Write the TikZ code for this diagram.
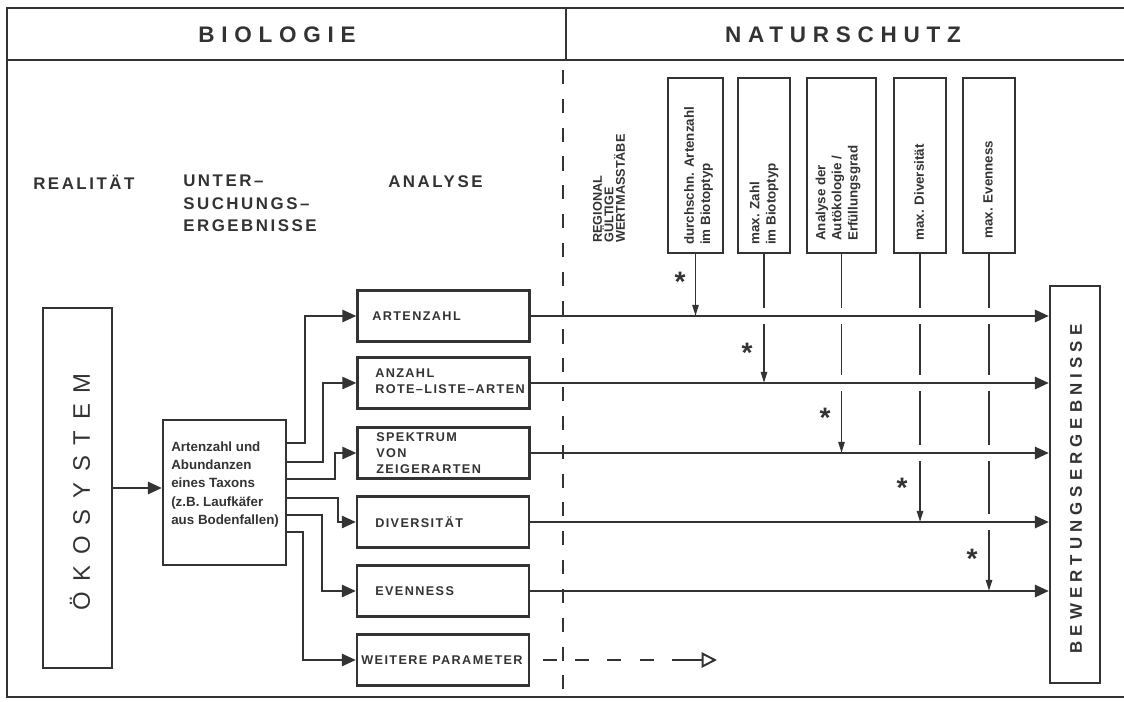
\documentclass[tikz,border=0pt]{standalone}
\usepackage{fontspec}
\setmainfont{Liberation Sans}
\newfontfamily\hdfont[LetterSpace=30]{Liberation Sans}
\newfontfamily\colfont[LetterSpace=15]{Liberation Sans}
\newfontfamily\capfont[LetterSpace=11]{Liberation Sans}
\newfontfamily\okofont[LetterSpace=45]{Liberation Sans}
\newfontfamily\bewfont[LetterSpace=30]{Liberation Sans}
\usetikzlibrary{arrows.meta,calc}
\newcommand\pxu{0.025cm}
\definecolor{ink}{gray}{0.2}
\begin{document}
\begin{tikzpicture}[x=0.025cm,y=-0.025cm,
  frame/.style={draw=ink,line width=2pt},
  box/.style={draw=ink,line width=1.5pt,inner sep=0pt},
  hbox/.style={box,minimum width=172*\pxu,minimum height=51*\pxu},
  vbox/.style={box,minimum height=175*\pxu},
  header/.style={inner sep=0pt,font=\hdfont\bfseries\fontsize{16}{18}\selectfont,text=ink},
  collab/.style={inner sep=0pt,font=\colfont\bfseries\fontsize{12}{16}\selectfont,text=ink,align=left},
  caplab/.style={inner sep=0pt,font=\capfont\bfseries\fontsize{9}{11.5}\selectfont,text=ink,align=left},
  taxlab/.style={inner sep=0pt,font=\bfseries\fontsize{9.5}{12.9}\selectfont,text=ink,align=left},
  vlab/.style={inner sep=0pt,rotate=90,anchor=west,font=\bfseries\fontsize{9.5}{11.5}\selectfont,text=ink,align=left},
  reglab/.style={inner sep=0pt,rotate=90,anchor=west,font=\bfseries\fontsize{9}{8.2}\selectfont,text=ink,align=left},
  star/.style={inner sep=0pt,anchor=north,font=\bfseries\fontsize{20}{20}\selectfont,text=ink},
  harrow/.style={draw=ink,line width=2.1pt,-{Triangle[length=10pt,width=8.5pt]}},
  elbow/.style={draw=ink,line width=1.9pt,-{Triangle[length=10pt,width=8.5pt]}},
  varrow/.style={draw=ink,line width=1.4pt,-{Triangle[length=8pt,width=4.5pt]}},
  gapcut/.style={draw=white,line width=5pt},
  dashv/.style={draw=ink,line width=1.5pt,dash pattern=on 10pt off 10.5pt},
  dashh/.style={draw=ink,line width=1.4pt,dash pattern=on 10pt off 13pt,dash phase=14pt},
  openarrow/.style={draw=ink,line width=1.4pt,-{Triangle[open,length=11pt,width=11pt]}}
]
\useasboundingbox (0,0) rectangle (1124,702);

% frame
\draw[frame] (1124,8) -- (7,8) -- (7,697) -- (1124,697);
\draw[frame] (7,60) -- (1124,60);
\draw[frame] (566,8) -- (566,60);
\draw[dashv] (563,70) -- (563,692);

% headers
\node[header] (hbio) at (277,35) {BIOLOGIE};
\node[header] (hnat) at (843,35) {NATURSCHUTZ};

% column labels
\node[collab,anchor=north west] (lreal) at (33,175) {REALITÄT};
\node[collab,anchor=north west] (lunter) at (183,175) {UNTER–\\SUCHUNGS–\\ERGEBNISSE};
\node[collab,anchor=north west] (lana) at (388,175) {ANALYSE};
\node[reglab] (lreg) at (609,243) {REGIONAL\\GÜLTIGE\\WERTMASSTÄBE};

% left boxes
\node[box,minimum width=69*\pxu,minimum height=360*\pxu] (oko) at (77.5,488) {};
\node[inner sep=0pt,rotate=90,font=\okofont\fontsize{17}{20}\selectfont,text=ink] (okot) at (80,492) {ÖKOSYSTEM};
\node[box,minimum width=123*\pxu,minimum height=145*\pxu] (tax) at (224.5,492.5) {};
\node[taxlab,anchor=west] (taxt) at (171,484.5) {Artenzahl und\\Abundanzen\\eines Taxons\\(z.B. Laufkäfer\\ aus Bodenfallen)};

% analysis boxes
\node[hbox] (a1) at (443.5,316) {};
\node[hbox] (a2) at (443.5,383) {};
\node[hbox] (a3) at (443.5,453) {};
\node[hbox] (a4) at (443,522) {};
\node[hbox] (a5) at (443,591) {};
\node[hbox] (a6) at (443,660) {};
\node[caplab,anchor=west] (a1t) at (372,316) {ARTENZAHL};
\node[caplab,anchor=west] (a2t) at (375,381) {ANZAHL\\ROTE–LISTE–ARTEN};
\node[caplab,anchor=west] (a3t) at (376,453) {SPEKTRUM\\VON\\ZEIGERARTEN};
\node[caplab,anchor=west] (a4t) at (375,522) {DIVERSITÄT};
\node[caplab,anchor=west] (a5t) at (375,591) {EVENNESS};
\node[caplab] (a6t) at (442,660) {WEITERE PARAMETER};

% result box
\node[box,minimum width=50*\pxu,minimum height=397*\pxu] (bew) at (1075,484.5) {};
\node[inner sep=0pt,rotate=90,font=\bewfont\bfseries\fontsize{12}{14}\selectfont,text=ink] (bewt) at (1076,489) {BEWERTUNGSERGEBNISSE};

% top boxes
\node[vbox,minimum width=55*\pxu] (t1) at (695.5,165.5) {};
\node[vbox,minimum width=52*\pxu] (t2) at (764,165.5) {};
\node[vbox,minimum width=69*\pxu] (t3) at (841.5,165.5) {};
\node[vbox,minimum width=52*\pxu] (t4) at (920,165.5) {};
\node[vbox,minimum width=52*\pxu] (t5) at (989,165.5) {};
\node[vlab] (t1t) at (698.5,245) {durchschn. Artenzahl\\im Biotoptyp};
\node[vlab] (t2t) at (764,245) {max. Zahl\\im Biotoptyp};
\node[vlab] (t3t) at (838,241) {Analyse der\\Autökologie /\\Erfüllungsgrad};
\node[vlab] (t4t) at (919,241) {max. Diversität};
\node[vlab] (t5t) at (988,239) {max. Evenness};

% asterisks
\node[star] (s1) at (680,272) {*};
\node[star] (s2) at (747,343) {*};
\node[star] (s3) at (825,408) {*};
\node[star] (s4) at (902,478) {*};
\node[star] (s5) at (972,549) {*};

% Oekosystem -> taxon
\draw[harrow] (oko.east) -- (oko.east -| tax.west);

% taxon -> analysis boxes
\draw[elbow] (tax.east |- 0,443) -- (305,443) |- (a1.west);
\draw[elbow] (tax.east |- 0,462) -- (323,462) |- (a2.west);
\draw[elbow] (tax.east |- 0,479) -- (335,479) |- (a3.west);
\draw[elbow] (tax.east |- 0,498) -- (338,498) |- (a4.west);
\draw[elbow] (tax.east |- 0,515) -- (322,515) |- (a5.west);
\draw[elbow] (tax.east |- 0,532) -- (303,532) |- (a6.west);

% vertical connectors from top boxes
\draw[varrow] (t1.south) -- (t1.south |- a1.east);
\draw[varrow] (t2.south) -- (t2.south |- a2.east);
\draw[varrow] (t3.south) -- (t3.south |- a3.east);
\draw[varrow] (t4.south) -- (t4.south |- a4.east);
\draw[varrow] (t5.south) -- (t5.south |- a5.east);
\foreach \t/\c in {t2/a1, t3/a1, t3/a2, t4/a1, t4/a2, t4/a3, t5/a1, t5/a2, t5/a3, t5/a4}
  \draw[gapcut] ($(\t.south |- \c.east)+(0,-8)$) -- ($(\t.south |- \c.east)+(0,8)$);

% analysis -> results
\foreach \a in {a1,a2,a3,a4,a5}
  \draw[harrow] (\a.east) -- (\a.east -| bew.west);

% further parameters (dashed)
\coordinate (wend) at (717,660);
\draw[dashh] (a6.east) -- ($(wend)+(-34,0)$);
\draw[openarrow] ($(wend)+(-34,0)$) -- (wend);
\end{tikzpicture}
\end{document}
